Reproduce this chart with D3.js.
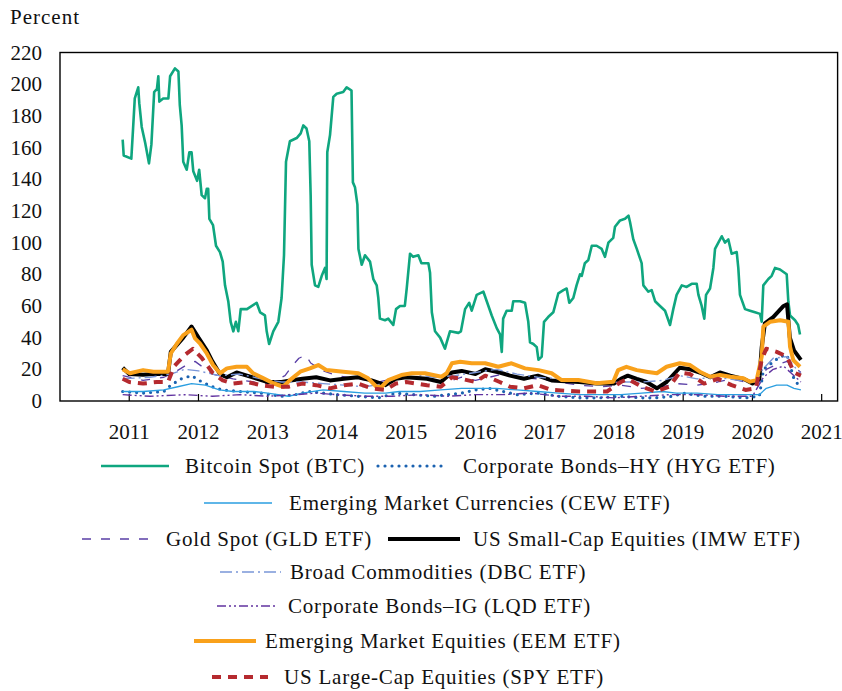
<!DOCTYPE html>
<html><head><meta charset="utf-8">
<script src="https://cdn.jsdelivr.net/npm/d3@7"></script>
<style>
body{margin:0;background:#fff;}
text{font-family:"Liberation Serif","Times New Roman",serif;fill:#111;}
</style></head>
<body><svg id="c" width="842" height="691"></svg>
<script>
// ---------- data (decimal year, percent) ----------
const yearTicks = [2011,2012,2013,2014,2015,2016,2017,2018,2019,2020,2021];
const valueTicks = [0,20,40,60,80,100,120,140,160,180,200,220];

const btc = [[2010.905,165],[2010.92,155],[2011.03,153],[2011.05,168],[2011.08,191],[2011.13,198],[2011.145,188],[2011.18,173],[2011.23,163],[2011.285,150],[2011.32,162],[2011.36,195],[2011.40,197],[2011.42,205],[2011.435,189],[2011.49,191],[2011.565,191],[2011.59,205],[2011.66,210],[2011.71,208],[2011.73,187],[2011.757,174],[2011.78,151],[2011.83,146],[2011.868,157],[2011.9,157],[2011.925,145],[2011.98,139],[2012.01,146],[2012.046,130],[2012.094,128],[2012.12,134],[2012.14,134],[2012.157,115],[2012.21,111],[2012.253,98],[2012.31,94],[2012.35,88],[2012.383,73],[2012.43,63],[2012.465,50],[2012.503,44],[2012.54,50],[2012.575,44],[2012.61,58],[2012.70,58],[2012.84,62],[2012.89,56],[2012.96,54],[2012.985,44],[2013.02,36],[2013.08,44],[2013.153,50],[2013.2,65],[2013.235,92],[2013.264,151],[2013.32,164],[2013.418,166],[2013.476,169],[2013.514,174],[2013.56,172],[2013.6,164],[2013.62,130],[2013.635,86],[2013.683,73],[2013.73,72],[2013.78,79],[2013.827,84],[2013.85,77],[2013.86,157],[2013.9,168],[2013.947,192],[2013.996,194],[2014.09,195],[2014.14,198],[2014.21,196],[2014.23,138],[2014.26,135],[2014.295,124],[2014.31,96],[2014.357,86],[2014.405,92],[2014.477,88],[2014.525,77],[2014.574,73],[2014.597,65],[2014.62,52],[2014.694,51],[2014.74,52],[2014.813,48],[2014.853,58],[2014.91,60],[2014.98,60],[2015.007,71],[2015.055,93],[2015.1,91],[2015.175,92],[2015.22,87],[2015.32,87],[2015.344,81],[2015.37,56],[2015.416,44],[2015.49,40],[2015.56,33],[2015.585,37],[2015.632,44],[2015.753,43],[2015.79,44],[2015.85,58],[2015.91,62],[2015.946,57],[2016.018,67],[2016.115,69],[2016.163,63],[2016.235,54],[2016.307,46],[2016.355,42],[2016.38,31],[2016.4,52],[2016.45,57],[2016.524,57],[2016.546,63],[2016.643,63],[2016.716,62],[2016.763,50],[2016.788,37],[2016.836,36],[2016.885,34],[2016.91,26],[2016.957,28],[2016.99,50],[2017.05,53],[2017.124,56],[2017.197,68],[2017.27,70],[2017.317,71],[2017.355,62],[2017.413,65],[2017.46,73],[2017.51,80],[2017.535,79],[2017.58,87],[2017.63,89],[2017.68,98],[2017.75,98],[2017.823,96],[2017.87,91],[2017.92,100],[2017.99,103],[2018.015,110],[2018.088,114],[2018.16,115],[2018.21,117],[2018.232,113],[2018.28,102],[2018.33,96],[2018.4,87],[2018.425,73],[2018.497,69],[2018.545,70],[2018.594,63],[2018.665,60],[2018.738,57],[2018.81,48],[2018.857,58],[2018.905,67],[2018.98,73],[2019.05,72],[2019.123,74],[2019.195,74],[2019.22,67],[2019.267,60],[2019.305,52],[2019.33,67],[2019.388,71],[2019.436,84],[2019.46,96],[2019.508,100],[2019.557,104],[2019.604,100],[2019.652,102],[2019.7,93],[2019.773,94],[2019.796,84],[2019.82,67],[2019.893,58],[2019.965,57],[2020.037,56],[2020.11,55],[2020.134,50],[2020.157,73],[2020.23,77],[2020.278,79],[2020.326,84],[2020.398,83],[2020.495,80],[2020.518,63],[2020.543,54],[2020.615,51],[2020.66,48],[2020.687,42]];

const hyg = [[2010.905,6],[2011.2,5],[2011.5,6],[2011.6,10],[2011.75,14],[2011.9,16],[2012.05,12],[2012.2,9],[2012.35,7],[2012.6,6],[2012.9,5],[2013.2,3],[2013.4,4],[2013.6,6],[2013.8,5],[2014.0,4],[2014.3,3],[2014.6,2],[2014.85,5],[2015.1,4],[2015.4,3],[2015.6,4],[2015.8,5],[2016.0,7],[2016.2,8],[2016.4,6],[2016.6,4],[2016.9,5],[2017.2,3],[2017.5,2],[2017.8,2],[2018.1,3],[2018.4,2],[2018.6,2],[2018.85,3],[2019.0,5],[2019.3,3],[2019.6,3],[2019.9,2],[2020.1,3],[2020.16,20],[2020.25,23],[2020.4,28],[2020.5,29],[2020.56,20],[2020.6,14],[2020.7,8]];

const cew = [[2010.905,6],[2011.2,6],[2011.5,7],[2011.7,9],[2011.9,11],[2012.1,10],[2012.3,7],[2012.5,6],[2012.8,6],[2013.0,5],[2013.3,3],[2013.5,5],[2013.8,7],[2014.1,6],[2014.4,5],[2014.7,5],[2014.9,6],[2015.2,6],[2015.5,7],[2015.8,8],[2016.0,8],[2016.3,8],[2016.6,7],[2016.9,6],[2017.2,5],[2017.5,4],[2017.8,4],[2018.1,4],[2018.4,5],[2018.7,6],[2018.9,5],[2019.2,5],[2019.5,4],[2019.8,4],[2020.1,4],[2020.2,8],[2020.35,10],[2020.5,10],[2020.6,8],[2020.7,7]];

const gld = [[2010.905,16],[2011.2,13],[2011.5,15],[2011.65,18],[2011.8,22],[2011.95,25],[2012.2,17],[2012.5,14],[2012.8,12],[2013.0,11],[2013.25,16],[2013.35,22],[2013.45,27],[2013.55,29],[2013.62,24],[2013.8,19],[2014.0,16],[2014.3,14],[2014.6,12],[2014.9,15],[2015.1,16],[2015.4,13],[2015.6,12],[2015.8,15],[2016.0,13],[2016.2,15],[2016.4,17],[2016.6,15],[2016.9,14],[2017.2,12],[2017.5,10],[2017.8,9],[2018.1,10],[2018.4,8],[2018.7,9],[2018.9,11],[2019.2,10],[2019.5,12],[2019.7,14],[2019.9,12],[2020.1,12],[2020.2,20],[2020.35,23],[2020.5,25],[2020.6,22],[2020.7,18]];

const imw = [[2010.905,21],[2011.0,17],[2011.2,16.5],[2011.35,17],[2011.56,17],[2011.6,31],[2011.78,40],[2011.9,47],[2012.0,40],[2012.12,32],[2012.2,25],[2012.31,17],[2012.41,15],[2012.55,18],[2012.7,16],[2012.85,14],[2013.0,12],[2013.2,12],[2013.33,13],[2013.5,14],[2013.7,15],[2013.9,13],[2014.1,14],[2014.3,15],[2014.5,13],[2014.7,10],[2014.85,14],[2015.0,15],[2015.3,14],[2015.5,12],[2015.66,18],[2015.8,19],[2016.0,17],[2016.14,20],[2016.35,18],[2016.5,16],[2016.7,14],[2016.9,16],[2017.1,13],[2017.5,12],[2017.75,11],[2018.0,11],[2018.1,14],[2018.2,16],[2018.33,14],[2018.47,12],[2018.62,8],[2018.76,12],[2018.95,21],[2019.1,20],[2019.24,18],[2019.39,15],[2019.53,18],[2019.68,16],[2019.87,14],[2020.0,11],[2020.1,14],[2020.134,34],[2020.18,49],[2020.3,53],[2020.45,60],[2020.5,61],[2020.54,40],[2020.6,32],[2020.7,26]];

const dbc = [[2010.905,14],[2011.3,15],[2011.6,17],[2011.8,20],[2012.0,19],[2012.3,16],[2012.6,17],[2012.9,14],[2013.2,12],[2013.5,12],[2013.8,11],[2014.1,10],[2014.4,9],[2014.7,11],[2014.9,16],[2015.1,17],[2015.4,15],[2015.7,16],[2016.0,18],[2016.3,20],[2016.6,17],[2016.9,15],[2017.2,14],[2017.5,13],[2017.8,11],[2018.1,12],[2018.4,12],[2018.7,13],[2018.95,16],[2019.2,14],[2019.5,15],[2019.8,13],[2020.05,12],[2020.15,20],[2020.3,27],[2020.5,28],[2020.6,22],[2020.7,17]];

const lqd = [[2010.905,4],[2011.3,3],[2011.8,4],[2012.2,3],[2012.6,4],[2013.0,3],[2013.4,4],[2013.7,5],[2014.0,4],[2014.4,3],[2014.8,3],[2015.2,4],[2015.6,3],[2016.0,4],[2016.4,4],[2016.8,5],[2017.2,3],[2017.6,3],[2018.0,2],[2018.4,3],[2018.8,4],[2019.2,4],[2019.6,3],[2020.0,3],[2020.16,15],[2020.3,20],[2020.45,22],[2020.55,18],[2020.7,12]];

const eem = [[2010.905,20],[2011.01,17.5],[2011.2,19.5],[2011.35,18.5],[2011.56,18.5],[2011.6,30],[2011.685,36],[2011.78,41.6],[2011.9,45],[2011.95,39.5],[2012.02,36.4],[2012.12,30],[2012.21,22.7],[2012.31,17.5],[2012.41,20.6],[2012.55,21.6],[2012.7,21.6],[2012.79,17.5],[2012.94,14.3],[2013.08,11.2],[2013.225,9],[2013.32,13.2],[2013.47,18.5],[2013.61,20.6],[2013.73,22.7],[2013.85,19.5],[2014.09,18.5],[2014.31,17.5],[2014.45,14.3],[2014.57,9],[2014.645,9],[2014.74,13.2],[2014.93,16.4],[2015.08,17.5],[2015.27,17.5],[2015.51,15.3],[2015.585,17.5],[2015.66,23.8],[2015.78,24.8],[2015.946,23.8],[2016.14,23.8],[2016.33,21.6],[2016.52,23.8],[2016.716,20.6],[2016.91,19.5],[2017.1,17.5],[2017.245,13.2],[2017.486,13.2],[2017.75,11.2],[2017.99,12.2],[2018.06,19.5],[2018.18,21.6],[2018.33,19.5],[2018.47,18.5],[2018.62,17.5],[2018.76,21.6],[2018.95,23.8],[2019.1,22.7],[2019.24,18.5],[2019.39,15.3],[2019.53,16.4],[2019.68,15.3],[2019.87,14.3],[2019.965,12.2],[2020.06,13.2],[2020.134,28],[2020.157,46.9],[2020.254,50],[2020.4,51],[2020.52,50],[2020.543,34.2],[2020.59,25.8],[2020.687,21.6]];

const spy = [[2010.905,14],[2011.0,12],[2011.2,11],[2011.4,12],[2011.56,12],[2011.65,22],[2011.8,29],[2011.92,33],[2012.05,27],[2012.2,18],[2012.35,13],[2012.5,11],[2012.7,12],[2012.9,10],[2013.1,9],[2013.3,9],[2013.5,11],[2013.7,10],[2013.9,8],[2014.1,10],[2014.3,11],[2014.5,8],[2014.7,7],[2014.85,11],[2015.0,12],[2015.3,10],[2015.5,9],[2015.66,15],[2015.8,14],[2016.0,12],[2016.14,16],[2016.35,12],[2016.5,9],[2016.7,8],[2016.9,10],[2017.1,7],[2017.5,6],[2017.9,6],[2018.1,12],[2018.2,14],[2018.4,9],[2018.6,6],[2018.8,9],[2018.95,18],[2019.1,17],[2019.3,11],[2019.5,14],[2019.7,10],[2019.9,7],[2020.05,8],[2020.134,26],[2020.2,33],[2020.35,31],[2020.5,28],[2020.6,18],[2020.7,16]];

const seriesNames = ["Bitcoin Spot (BTC)","Corporate Bonds–HY (HYG ETF)","Emerging Market Currencies (CEW ETF)","Gold Spot (GLD ETF)","US Small-Cap Equities (IMW ETF)","Broad Commodities (DBC ETF)","Corporate Bonds–IG (LQD ETF)","Emerging Market Equities (EEM ETF)","US Large-Cap Equities (SPY ETF)"];
const seriesData = [btc,hyg,cew,gld,imw,dbc,lqd,eem,spy];

// ---------- styles ----------
const styles = [
  {c:"#0fa67f",w:2.6,d:null,cap:"butt"},
  {c:"#1b62b0",w:3.2,d:"0 7",cap:"round"},
  {c:"#2a9ee0",w:1.3,d:null,cap:"butt"},
  {c:"#5a3fa6",w:1.3,d:"9 10",cap:"butt"},
  {c:"#000000",w:4,d:null,cap:"butt"},
  {c:"#7a96d8",w:1.4,d:"12 4 2 4",cap:"butt"},
  {c:"#6133a0",w:1.4,d:"9 3 2 3 2 3",cap:"butt"},
  {c:"#f9a11b",w:4,d:null,cap:"butt"},
  {c:"#b52a2f",w:4,d:"9 7",cap:"butt"}
];
// legend layout: [sampleX0, sampleX1, textX, y]
const legendPos = [
  [101,169,185,466],[378,447,463,466],
  [204,272,289,503],
  [82,150,166,539],[388,460,473,539],
  [220,281,290,572],
  [217,277,288,606],
  [194,256,265,641],
  [212,268,284,677]
];

const svg = d3.select("#c");
const x = d3.scaleLinear().domain([2010,2021.23]).range([60,837.6]);
const y = d3.scaleLinear().domain([0,220]).range([401,52.5]);

// frame
svg.append("rect").attr("x",60).attr("y",52.5).attr("width",777.6).attr("height",348.5)
  .attr("fill","none").attr("stroke","#000").attr("stroke-width",1.4);

// x ticks inside
svg.append("g").selectAll("line").data(yearTicks).join("line")
  .attr("x1",d=>x(d)).attr("x2",d=>x(d)).attr("y1",401).attr("y2",394)
  .attr("stroke","#000").attr("stroke-width",1.2);
svg.append("g").selectAll("text").data(yearTicks).join("text")
  .attr("x",d=>x(d)).attr("y",439).attr("text-anchor","middle")
  .style("font-size","21px").text(d=>d);

svg.append("g").selectAll("text").data(valueTicks).join("text")
  .attr("x",42).attr("y",d=>y(d)+7).attr("text-anchor","end")
  .style("font-size","21px").text(d=>d);

svg.append("text").attr("x",10).attr("y",24).style("font-size","21px")
  .style("letter-spacing","1px").text("Percent");

// lines
const line = d3.line().x(d=>x(d[0])).y(d=>y(d[1]));
const g = svg.append("g");
seriesData.forEach((data,i)=>{
  const s = styles[i];
  g.append("path").datum(data).attr("d",line).attr("fill","none")
    .attr("stroke",s.c).attr("stroke-width",s.w).attr("stroke-linejoin","round")
    .attr("stroke-linecap",s.cap).attr("stroke-dasharray",s.d);
});

// legend
const lg = svg.append("g");
seriesNames.forEach((name,i)=>{
  const s = styles[i], p = legendPos[i];
  lg.append("line").attr("x1",p[0]).attr("x2",p[1]).attr("y1",p[3]).attr("y2",p[3])
    .attr("stroke",s.c).attr("stroke-width",s.w).attr("stroke-linecap",s.cap)
    .attr("stroke-dasharray",s.d);
  lg.append("text").attr("x",p[2]).attr("y",p[3]+7).style("font-size","21px")
    .style("letter-spacing","0.8px").text(name);
});
</script></body></html>
